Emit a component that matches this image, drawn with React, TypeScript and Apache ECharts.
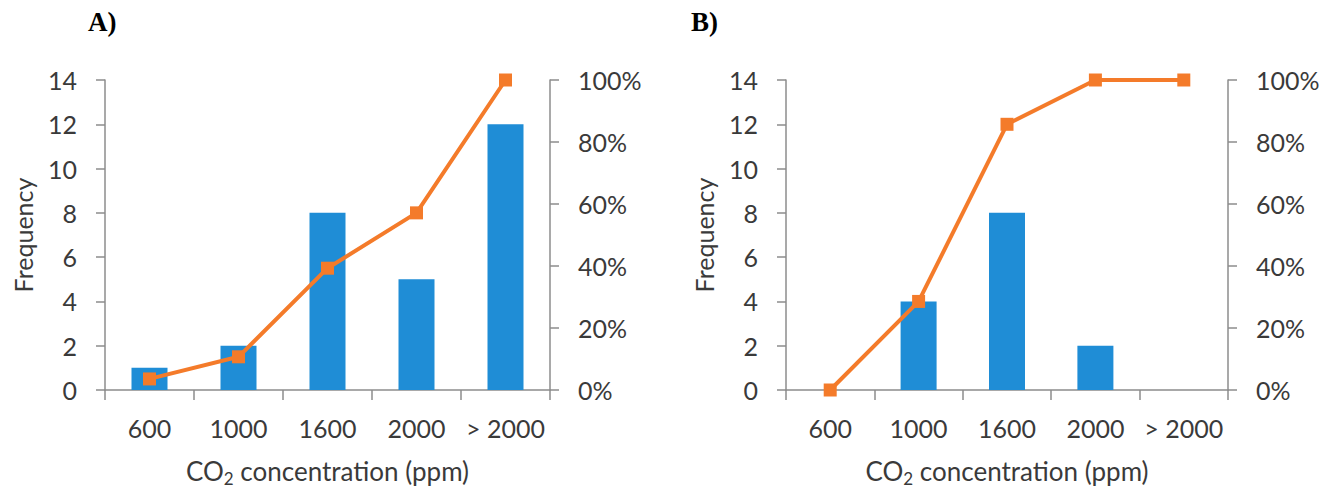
import React, { useEffect, useRef } from "react";
import * as echarts from "echarts";

const categories = ["600", "1000", "1600", "2000", "> 2000"];
const freqA = [1, 2, 8, 5, 12];
const cumA = [3.57, 10.71, 39.29, 57.14, 100];
const freqB = [0, 4, 8, 2, 0];
const cumB = [0, 28.57, 85.71, 100, 100];
const panelTitles = ["A)", "B)"];

const BLUE = "#1f8dd6";
const ORANGE = "#f47b2a";
const AXIS = "#8c8c8c";
const TEXT = "#3a3a3a";
const FONT = "Lato";

export default function App() {
  const ref = useRef<HTMLDivElement>(null);
  useEffect(() => {
    document.body.style.margin = "0";
    const chart = echarts.init(ref.current!, null, { renderer: "svg" });
    const grids = [
      { left: 105, top: 80, width: 445, height: 310, outerBoundsMode: "none", containLabel: false },
      { left: 786, top: 80, width: 442, height: 310, outerBoundsMode: "none", containLabel: false },
    ];
    const axisLine = { show: true, lineStyle: { color: AXIS, width: 1.5 } };
    const axisTick = { show: true, length: 9, lineStyle: { color: AXIS, width: 1.5 } };
    const xAxes: any[] = [];
    const yAxes: any[] = [];
    const series: any[] = [];
    const datasets = [
      { f: freqA, c: cumA },
      { f: freqB, c: cumB },
    ];
    datasets.forEach((d, i) => {
      xAxes.push({
        type: "category",
        gridIndex: i,
        data: categories,
        axisLine,
        axisTick: { ...axisTick, length: 10 },
        axisLabel: { color: TEXT, fontFamily: FONT, fontSize: 25, margin: 25, interval: 0 },
        name: "{a|CO}{s|2}{a| concentration (ppm)}",
        nameLocation: "middle",
        nameGap: 64,
        nameTextStyle: {
          rich: {
            a: { color: TEXT, fontFamily: FONT, fontSize: 26 },
            s: { color: TEXT, fontFamily: FONT, fontSize: 17, padding: [16, 0, 0, 0] },
          },
        },
      });
      yAxes.push({
        type: "value",
        gridIndex: i,
        min: 0,
        max: 14,
        interval: 2,
        axisLine,
        axisTick,
        splitLine: { show: false },
        axisLabel: { color: TEXT, fontFamily: FONT, fontSize: 25, margin: 28 },
        name: "Frequency",
        nameLocation: "middle",
        nameGap: 70,
        nameRotate: 90,
        nameTextStyle: { color: TEXT, fontFamily: FONT, fontSize: 25 },
      });
      yAxes.push({
        type: "value",
        gridIndex: i,
        position: "right",
        min: 0,
        max: 100,
        interval: 20,
        axisLine,
        axisTick,
        splitLine: { show: false },
        axisLabel: {
          color: TEXT,
          fontFamily: FONT,
          fontSize: 25,
          margin: 28,
          formatter: "{value}%",
        },
      });
      series.push({
        type: "bar",
        xAxisIndex: i,
        yAxisIndex: i * 2,
        data: d.f,
        barWidth: 36,
        itemStyle: { color: BLUE },
      });
      series.push({
        type: "line",
        xAxisIndex: i,
        yAxisIndex: i * 2 + 1,
        data: d.c,
        symbol: "rect",
        symbolSize: 13,
        lineStyle: { color: ORANGE, width: 4 },
        itemStyle: { color: ORANGE },
      });
    });
    chart.setOption({
      animation: false,
      backgroundColor: "#ffffff",
      grid: grids,
      xAxis: xAxes,
      yAxis: yAxes,
      series,
      graphic: [
        {
          type: "text",
          left: 88,
          top: 8,
          style: {
            text: panelTitles[0],
            font: "bold 27px 'Liberation Serif', serif",
            fill: "#000",
          },
        },
        {
          type: "text",
          left: 691,
          top: 8,
          style: {
            text: panelTitles[1],
            font: "bold 27px 'Liberation Serif', serif",
            fill: "#000",
          },
        },
      ],
    });
    return () => chart.dispose();
  }, []);
  return <div ref={ref} style={{ width: 1323, height: 488 }} />;
}
